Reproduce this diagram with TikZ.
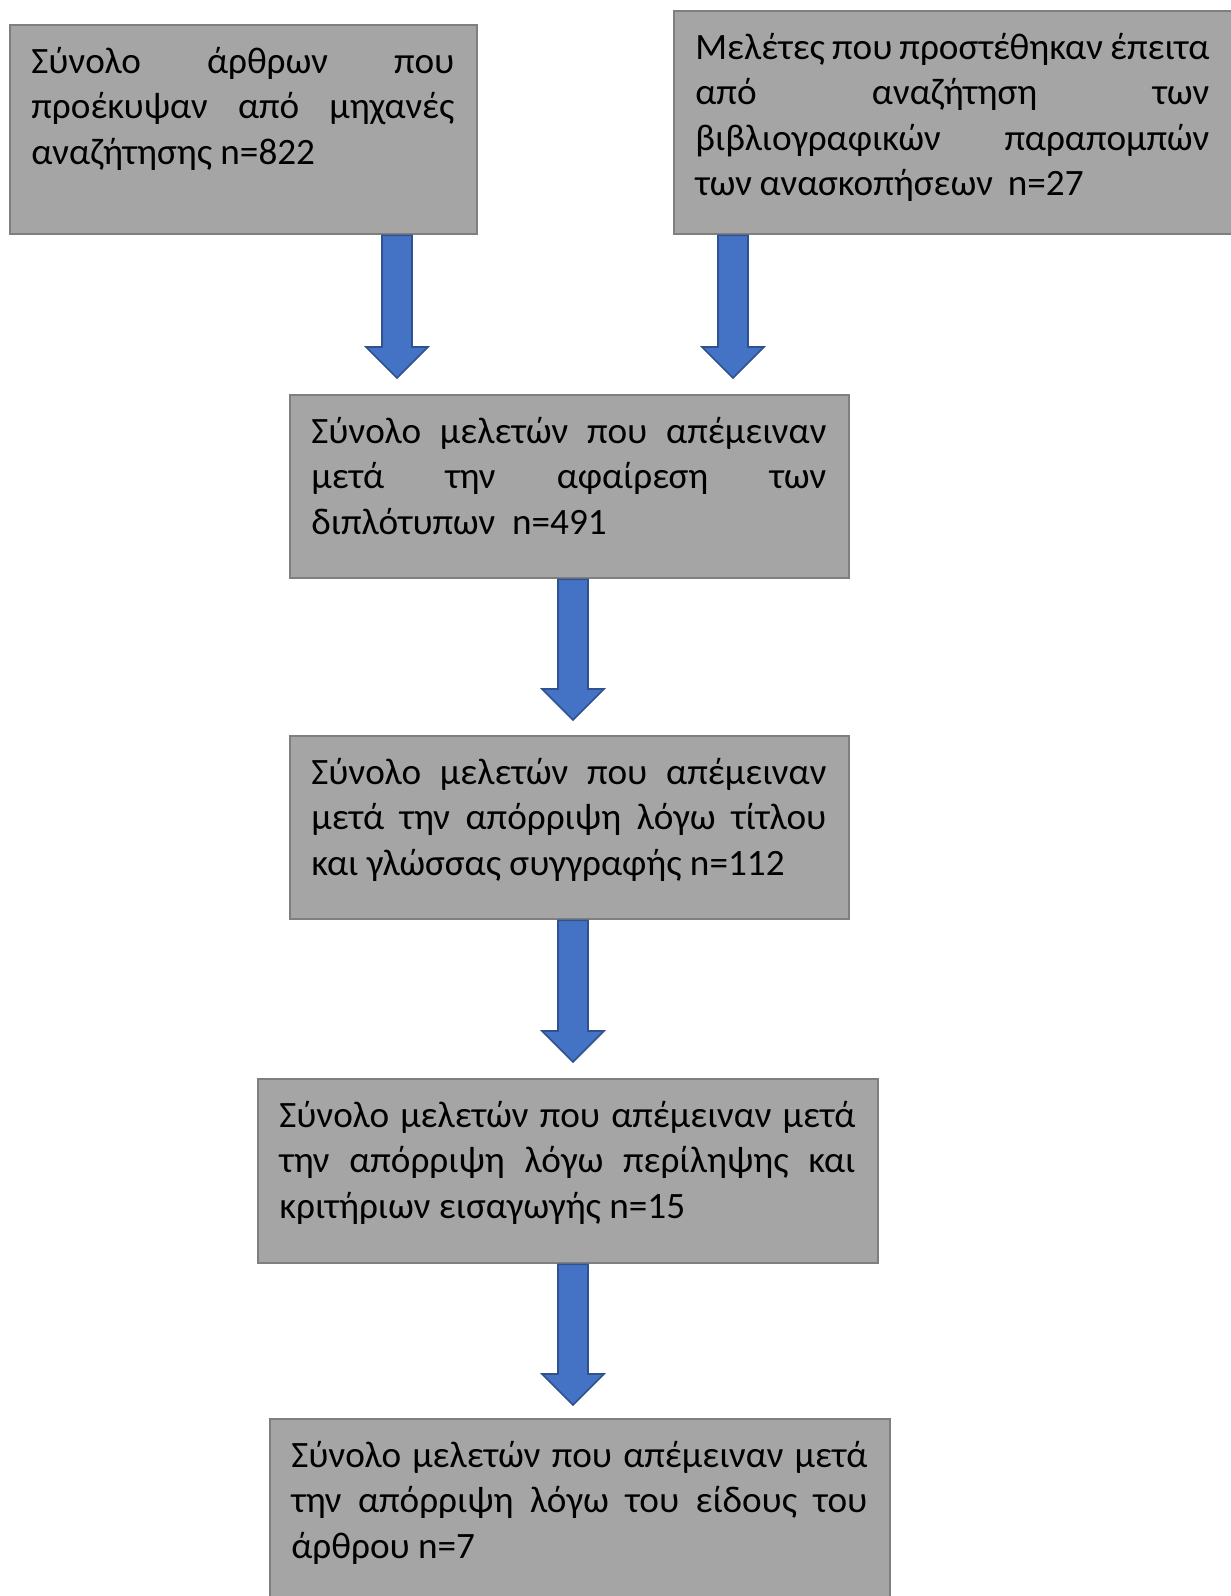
\documentclass[tikz,border=0pt]{standalone}
\usepackage{fontspec}
\setmainfont{Carlito}
\usetikzlibrary{calc}
\definecolor{boxfill}{HTML}{A5A5A5}
\definecolor{boxline}{HTML}{7F7F7F}
\definecolor{arrfill}{HTML}{4472C4}
\definecolor{arrline}{HTML}{2F528F}
\tikzset{
  boxst/.style={draw=boxline, line width=1.2pt, fill=boxfill, inner sep=0pt, anchor=north west, rectangle},
  txtst/.style={inner sep=0pt, anchor=north west, align=justify, font=\fontsize{18.6}{22.75}\selectfont},
  arrst/.style={draw=arrline, fill=arrfill, line width=0.8pt, line join=miter}
}
\newcommand\blkarrow[2]{%
  \draw[arrst] ($(#1)+(-15,0)$) -- ($(#1)+(15,0)$) -- ($(#2)+(15,-31)$) -- ($(#2)+(31,-31)$)
    -- (#2) -- ($(#2)+(-31,-31)$) -- ($(#2)+(-15,-31)$) -- cycle;}
\begin{document}
\begin{tikzpicture}[x=0.5pt,y=-0.5pt]
\useasboundingbox (0,0) rectangle (1231,1596);
\clip (0,0) rectangle (1231,1596);
% boxes
\node[boxst, minimum width=233.5pt, minimum height=104.5pt] (b1) at (9,24) {};
\node[boxst, minimum width=279pt, minimum height=111.5pt] (b2) at (673,10) {};
\node[boxst, minimum width=279.5pt, minimum height=91.5pt] (b3) at (289,394) {};
\node[boxst, minimum width=279.5pt, minimum height=91.5pt] (b4) at (289,735) {};
\node[boxst, minimum width=310pt, minimum height=92pt] (b5) at (257,1078) {};
\node[boxst, minimum width=310pt, minimum height=101pt] (b6) at (269,1418) {};
% texts
\node[txtst, text width=211.5pt] (t1) at ($(b1.north west)+(22,17)$)
  {\strut Σύνολο άρθρων που\linebreak προέκυψαν από μηχανές\linebreak αναζήτησης n=822};
\node[txtst, text width=257pt] (t2) at ($(b2.north west)+(22,17)$)
  {\spaceskip=0.2em plus 1em minus 0.08em\strut Μελέτες που προστέθηκαν έπειτα\linebreak από αναζήτηση των\linebreak βιβλιογραφικών παραπομπών\linebreak των ανασκοπήσεων~~n=27};
\node[txtst, text width=257.5pt] (t3) at ($(b3.north west)+(22,17)$)
  {\strut Σύνολο μελετών που απέμειναν\linebreak μετά την αφαίρεση των\linebreak διπλότυπων~~n=491};
\node[txtst, text width=257.5pt] (t4) at ($(b4.north west)+(22,17)$)
  {\strut Σύνολο μελετών που απέμειναν\linebreak μετά την απόρριψη λόγω τίτλου\linebreak και γλώσσας συγγραφής n=112};
\node[txtst, text width=288pt] (t5) at ($(b5.north west)+(22,17)$)
  {\strut Σύνολο μελετών που απέμειναν μετά\linebreak την απόρριψη λόγω περίληψης και\linebreak κριτήριων εισαγωγής n=15};
\node[txtst, text width=288pt] (t6) at ($(b6.north west)+(22,17)$)
  {\strut Σύνολο μελετών που απέμειναν μετά\linebreak την απόρριψη λόγω του είδους του\linebreak άρθρου n=7};
% arrow anchor points
\coordinate (a1s) at (397,0 |- b1.south);
\coordinate (a1e) at ($(397,0 |- b3.north)+(0,-16)$);
\coordinate (a2s) at (733,0 |- b2.south);
\coordinate (a2e) at ($(733,0 |- b3.north)+(0,-16)$);
\coordinate (a3s) at (573,0 |- b3.south);
\coordinate (a3e) at ($(573,0 |- b4.north)+(0,-15)$);
\coordinate (a4s) at (573,0 |- b4.south);
\coordinate (a4e) at ($(573,0 |- b5.north)+(0,-16)$);
\coordinate (a5s) at (573,0 |- b5.south);
\coordinate (a5e) at ($(573,0 |- b6.north)+(0,-13)$);
\blkarrow{a1s}{a1e}
\blkarrow{a2s}{a2e}
\blkarrow{a3s}{a3e}
\blkarrow{a4s}{a4e}
\blkarrow{a5s}{a5e}
\end{tikzpicture}
\end{document}
